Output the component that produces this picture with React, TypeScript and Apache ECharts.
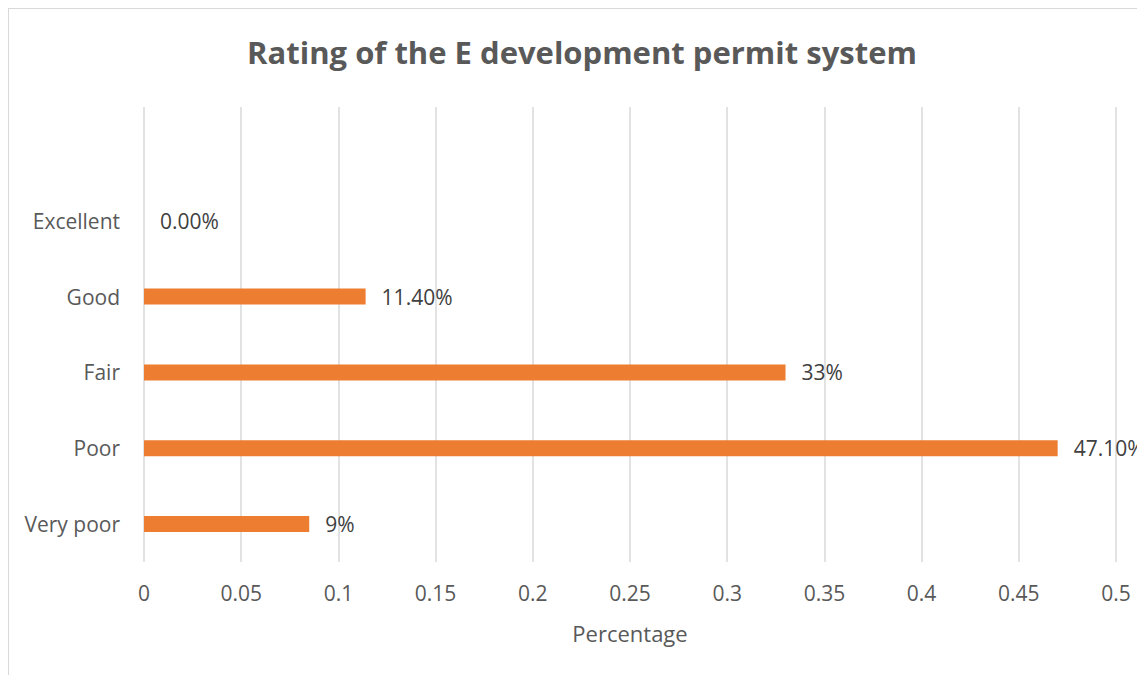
import React, { useEffect, useRef } from "react";
import * as echarts from "echarts";

const categories = ["Very poor", "Poor", "Fair", "Good", "Excellent", ""];
const values: (number | null)[] = [0.085, 0.47, 0.33, 0.114, 0, null];
const valueLabels = ["9%", "47.10%", "33%", "11.40%", "0.00%", ""];
const xTicks = { min: 0, max: 0.5, interval: 0.05 };
const titleText = "Rating of the E development permit system";
const xAxisName = "Percentage";

export default function App() {
  const ref = useRef<HTMLDivElement>(null);
  useEffect(() => {
    document.body.style.overflow = "hidden";
    const chart = echarts.init(ref.current!, null, { renderer: "svg" });
    const font = "'Open Sans', sans-serif";
    chart.setOption({
      animation: false,
      title: {
        text: titleText,
        left: 568,
        top: 22,
        textAlign: "center",
        textStyle: { fontFamily: font, fontSize: 31, fontWeight: "bold", color: "#595959" },
      },
      grid: { left: 135, top: 98, width: 972, height: 455 },
      xAxis: {
        type: "value",
        min: xTicks.min,
        max: xTicks.max,
        interval: xTicks.interval,
        axisLine: { show: false },
        axisTick: { show: false },
        splitLine: { show: true, lineStyle: { color: "#d9d9d9", width: 1.5 } },
        axisLabel: {
          fontFamily: font,
          fontSize: 21,
          color: "#595959",
          margin: 20,
          formatter: (v: number) => String(parseFloat(v.toFixed(2))),
        },
        name: xAxisName,
        nameLocation: "middle",
        nameGap: 60,
        nameTextStyle: { fontFamily: font, fontSize: 22, color: "#595959" },
      },
      yAxis: {
        type: "category",
        data: categories,
        axisLine: { show: false },
        axisTick: { show: false },
        splitLine: { show: false },
        axisLabel: { fontFamily: font, fontSize: 21, color: "#595959", margin: 24 },
      },
      series: [
        {
          type: "bar",
          data: values,
          barWidth: 16,
          itemStyle: { color: "#ED7D31" },
          label: {
            show: true,
            position: "right",
            distance: 16,
            fontFamily: font,
            fontSize: 21,
            color: "#404040",
            formatter: (p: any) => valueLabels[p.dataIndex],
          },
        },
      ],
    });
    return () => chart.dispose();
  }, []);
  return (
    <div
      style={{
        width: 1136,
        height: 666,
        borderTop: "1px solid #d9d9d9",
        borderLeft: "1px solid #d9d9d9",
      }}
    >
      <div ref={ref} style={{ width: 1136, height: 666 }} />
    </div>
  );
}
